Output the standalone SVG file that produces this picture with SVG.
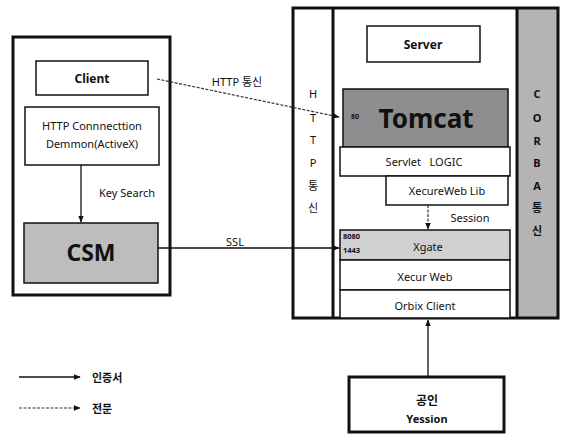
<svg xmlns="http://www.w3.org/2000/svg" width="563" height="444" viewBox="0 0 563 444">
<style>
text{font-family:"Noto Sans","Noto Sans CJK KR",sans-serif;fill:#111;text-anchor:middle;dominant-baseline:central}
.thick{fill:none;stroke:#111;stroke-width:3}
.box{fill:#fff;stroke:#111;stroke-width:1.5}
.b{font-weight:bold}
.s11{font-size:11px}
.s12{font-size:12px}
.ln{stroke:#111;stroke-width:1.3;fill:none}
.dash{stroke:#333;stroke-width:1.2;stroke-dasharray:3 1.5;fill:none}
</style>
<defs>
<marker id="ah" viewBox="0 0 10 10" refX="9" refY="5" markerWidth="7" markerHeight="7" markerUnits="userSpaceOnUse" orient="auto"><path d="M0,1 L10,5 L0,9 Z" fill="#111"/></marker>
</defs>
<rect width="563" height="444" fill="#fff"/>

<g id="client-group">
<rect class="thick" x="13" y="37" width="157" height="258"/>
</g>
<g id="client">
<rect class="box" x="36" y="61" width="112" height="34"/>
<text class="b s12" x="92" y="78">Client</text>
</g>
<g id="http-conn">
<rect class="box" x="25" y="107" width="134" height="58"/>
<text class="s11" x="92" y="125">HTTP Connnecttion</text>
<text class="s11" x="92" y="143">Demmon(ActiveX)</text>
</g>
<g id="csm">
<rect x="24" y="223" width="134" height="60" fill="#bdbdbd" stroke="#111" stroke-width="1.5"/>
<text class="b" x="91" y="252" font-size="23">CSM</text>
</g>

<g id="server-group">
<rect x="293" y="8" width="40" height="310" fill="#fff"/>
<rect x="517" y="8" width="41" height="310" fill="#b4b4b4"/>
<rect class="thick" x="293" y="8" width="265" height="310"/>
<line x1="333" y1="8" x2="333" y2="318" stroke="#111" stroke-width="3"/>
<line x1="517" y1="8" x2="517" y2="318" stroke="#111" stroke-width="3"/>
</g>
<g id="http-strip">
<text class="s11" x="313" y="93">H</text>
<text class="s11" x="313" y="117">T</text>
<text class="s11" x="313" y="139">T</text>
<text class="s11" x="313" y="162">P</text>
<text class="s11" x="313" y="185">통</text>
<text class="s11" x="313" y="207">신</text>
</g>
<g id="corba-strip">
<text class="b s11" x="537" y="93">C</text>
<text class="b s11" x="537" y="117">O</text>
<text class="b s11" x="537" y="140">R</text>
<text class="b s11" x="537" y="162">B</text>
<text class="b s11" x="537" y="185">A</text>
<text class="b s11" x="537" y="207">통</text>
<text class="b s11" x="537" y="230">신</text>
</g>
<g id="server">
<rect class="box" x="367" y="26" width="113" height="36"/>
<text class="b s12" x="423" y="44">Server</text>
</g>
<g id="tomcat">
<rect x="343" y="89" width="165" height="58" fill="#8e8e8e" stroke="#111" stroke-width="1.5"/>
<text class="b" x="355" y="116" font-size="7">80</text>
<text class="b" x="426" y="118" font-size="26">Tomcat</text>
</g>
<g id="servlet">
<rect class="box" x="340" y="147" width="170" height="29"/>
<text class="s11" x="424" y="161" style="white-space:pre" xml:space="preserve">Servlet   LOGIC</text>
</g>
<g id="xecureweb-lib">
<rect class="box" x="386" y="176" width="122" height="29"/>
<text class="s11" x="447" y="190">XecureWeb Lib</text>
</g>
<g id="xgate">
<rect x="340" y="230" width="170" height="30" fill="#d0d0d0" stroke="#111" stroke-width="1.5"/>
<text class="b" x="343" y="236" font-size="7.5" style="text-anchor:start">8080</text>
<text class="b" x="343" y="250" font-size="7.5" style="text-anchor:start">1443</text>
<text class="s11" x="428" y="246">Xgate</text>
</g>
<g id="xecur-web">
<rect class="box" x="340" y="260" width="170" height="30"/>
<text class="s11" x="425" y="276">Xecur Web</text>
</g>
<g id="orbix">
<rect class="box" x="340" y="290" width="170" height="28"/>
<text class="s11" x="425" y="305">Orbix Client</text>
</g>
<g id="yession">
<rect class="thick" x="349" y="377" width="155" height="55"/>
<text class="b s12" x="427" y="400">공인</text>
<text class="b s11" x="427" y="418">Yession</text>
</g>

<g id="connectors">
<line class="ln" x1="81" y1="165" x2="81" y2="222" stroke-width="2" marker-end="url(#ah)"/>
<text class="s11" x="127" y="192">Key Search</text>
<line class="dash" x1="157" y1="79" x2="339" y2="117" marker-end="url(#ah)"/>
<text class="s11" x="237" y="81">HTTP 통신</text>
<line class="ln" x1="158" y1="248" x2="339" y2="248" marker-end="url(#ah)"/>
<text class="s11" x="235" y="241">SSL</text>
<line class="dash" x1="428" y1="205" x2="428" y2="229" marker-end="url(#ah)"/>
<text class="s11" x="470" y="217">Session</text>
<line class="ln" x1="428" y1="377" x2="428" y2="320" stroke-width="2" marker-end="url(#ah)"/>
</g>

<g id="legend">
<line class="ln" x1="19" y1="377" x2="80" y2="377" marker-end="url(#ah)"/>
<text class="b s11" x="92" y="377" style="text-anchor:start">인증서</text>
<line class="dash" x1="19" y1="408" x2="80" y2="408" marker-end="url(#ah)"/>
<text class="b s11" x="92" y="408" style="text-anchor:start">전문</text>
</g>
</svg>
